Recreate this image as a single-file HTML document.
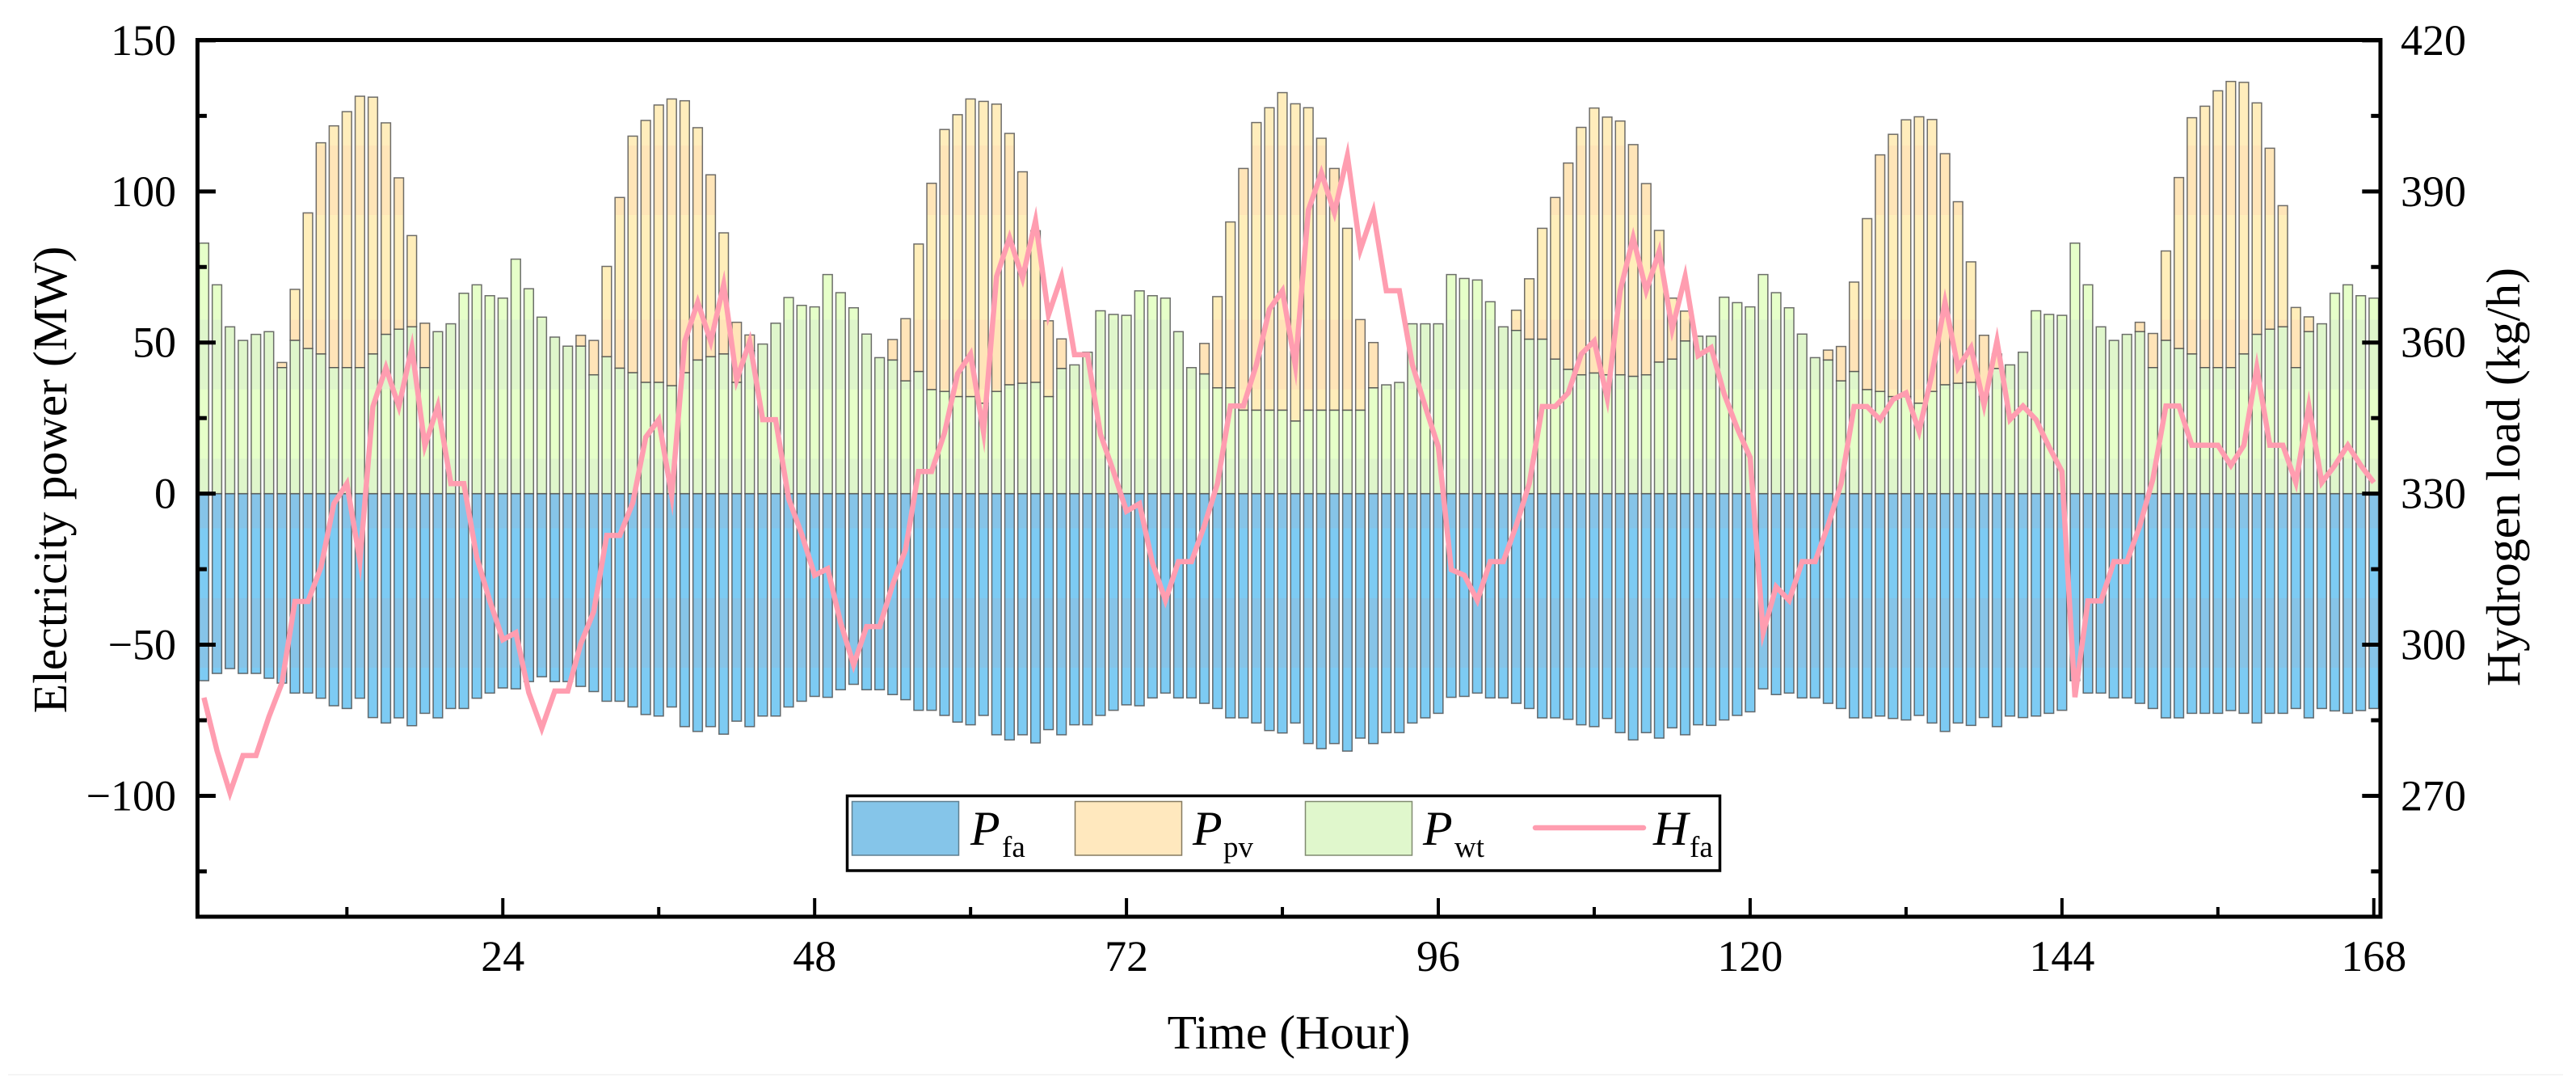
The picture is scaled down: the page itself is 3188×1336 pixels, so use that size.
<!DOCTYPE html>
<html lang="en">
<head>
<meta charset="utf-8">
<title>Electricity power and hydrogen load</title>
<style>
html,body{margin:0;padding:0;background:#fff;}
svg{display:block;font-family:"Liberation Serif",serif;fill:#000;}
</style>
</head>
<body>
<svg id="chart" xmlns="http://www.w3.org/2000/svg" width="3188" height="1336" viewBox="0 0 3188 1336">
  <defs>
    <linearGradient id="fa-fill" gradientUnits="userSpaceOnUse" x1="0" y1="0" x2="0" y2="1336">
      <stop offset="0.4892" stop-color="#86C4E8"/><stop offset="0.4892" stop-color="#7DCBF3"/>
      <stop offset="0.5539" stop-color="#7DCBF3"/><stop offset="0.5539" stop-color="#86C4E8"/>
      <stop offset="0.6183" stop-color="#86C4E8"/><stop offset="0.6183" stop-color="#7DCBF3"/>
    </linearGradient>
    <linearGradient id="pv-fill" gradientUnits="userSpaceOnUse" x1="0" y1="0" x2="0" y2="1336">
      <stop offset="0.1347" stop-color="#FFEDBC"/><stop offset="0.1347" stop-color="#FFE5B8"/>
      <stop offset="0.1991" stop-color="#FFE5B8"/><stop offset="0.1991" stop-color="#FFEEBA"/>
      <stop offset="0.2960" stop-color="#FFEEBA"/><stop offset="0.2960" stop-color="#FFE4B8"/>
      <stop offset="0.3604" stop-color="#FFE4B8"/><stop offset="0.3604" stop-color="#FFEDBA"/>
    </linearGradient>
    <linearGradient id="wt-fill" gradientUnits="userSpaceOnUse" x1="0" y1="0" x2="0" y2="1336">
      <stop offset="0.2960" stop-color="#E6FFC9"/><stop offset="0.2960" stop-color="#DFF6CB"/>
      <stop offset="0.3604" stop-color="#DFF6CB"/><stop offset="0.3604" stop-color="#E6FFC9"/>
      <stop offset="0.4249" stop-color="#E6FFC9"/><stop offset="0.4249" stop-color="#DFF6CB"/>
    </linearGradient>
  </defs>

  <g id="bars"></g>
  <g id="line"></g>
  <g id="ticks"></g>
  <rect x="244.4" y="49.5" width="2701.6" height="1084.5" fill="none" stroke="#000" stroke-width="5"/>
  <g id="labels" font-size="54"></g>

  <text x="1595" y="1297" font-size="59.6" text-anchor="middle">Time (Hour)</text>
  <text transform="translate(82 593.5) rotate(-90)" font-size="59.8" text-anchor="middle">Electricity power (MW)</text>
  <text transform="translate(3118 590) rotate(-90)" font-size="59.8" text-anchor="middle">Hydrogen load (kg/h)</text>

  <g>
    <rect x="1048.5" y="984.5" width="1080" height="92.5" fill="#fff" stroke="#000" stroke-width="3.5"/>
    <g>
      <rect x="1054.5" y="991.5" width="132" height="66.5" fill="#85C5E9" stroke="#5f7f90" stroke-width="1.5"/>
      <text x="1201" y="1045" font-size="60" font-style="italic">P</text>
      <text x="1240" y="1060" font-size="37">fa</text>
    </g>
    <g>
      <rect x="1330.5" y="991.5" width="132" height="66.5" fill="#FFE8BE" stroke="#857a60" stroke-width="1.5"/>
      <text x="1476" y="1045" font-size="60" font-style="italic">P</text>
      <text x="1514" y="1060" font-size="37">pv</text>
    </g>
    <g>
      <rect x="1615.5" y="991.5" width="132" height="66.5" fill="#E0F7CC" stroke="#808a70" stroke-width="1.5"/>
      <text x="1761" y="1045" font-size="60" font-style="italic">P</text>
      <text x="1800" y="1060" font-size="37">wt</text>
    </g>
    <g>
      <line x1="1900" y1="1024" x2="2034" y2="1024" stroke="#FF9DB0" stroke-width="6.5" stroke-linecap="round"/>
      <text x="2046" y="1045" font-size="60" font-style="italic">H</text>
      <text x="2091" y="1060" font-size="37">fa</text>
    </g>
  </g>
  <line x1="10" y1="1329.5" x2="3172" y2="1329.5" stroke="#f1f1f1" stroke-width="1.5"/>
</svg>

<script>
const hours = Array.from({length: 168}, (_, i) => i + 1);
const xTickLabels = ["24","48","72","96","120","144","168"];
const leftTickLabels = ["150","100","50","0","\u2212" + "50","\u2212" + "100"];
const leftTickValues = [150,100,50,0,-50,-100];
const rightTickValues = [420,390,360,330,300,270];

const pFa = [
61.9,59.5,57.9,59.5,59.5,61.1,62.7,66.0,66.0,67.7,70.2,71.1,67.7,74.1,75.9,74.2,76.8,72.7,74.2,71.1,71.1,67.7,66.0,64.3,
64.6,62.2,60.6,62.2,62.2,63.8,65.5,68.7,68.7,70.6,73.1,73.6,70.6,77.1,78.7,77.1,79.6,75.3,77.1,73.6,73.6,70.6,68.7,67.1,
67.4,64.9,63.1,64.9,64.9,66.5,68.2,71.7,71.7,73.4,75.6,76.5,73.4,79.8,81.5,79.8,82.5,78.1,79.8,76.5,76.5,73.4,71.7,69.9,
70.2,67.6,66.0,67.6,67.6,69.4,71.1,74.2,74.2,75.9,78.4,79.2,75.9,82.7,84.4,82.7,85.2,80.9,82.7,79.1,79.1,75.9,74.2,72.7,
67.4,67.1,66.0,67.6,67.6,69.4,71.1,74.2,74.2,74.7,76.5,77.1,74.4,79.1,81.5,79.1,80.9,77.5,79.8,76.5,76.7,74.9,73.4,72.2,
64.6,66.5,66.0,67.6,67.6,69.4,71.1,74.2,74.2,73.6,74.4,74.9,73.4,75.9,78.7,75.9,76.7,74.1,77.1,73.6,74.1,73.6,72.7,71.7,
61.9,66.0,66.0,67.6,67.6,69.4,71.1,74.2,74.2,72.7,72.7,72.7,71.8,72.7,75.9,72.7,72.7,71.1,74.2,71.1,71.9,72.7,71.8,71.1];

const pWt = [
82.9,69.1,55.2,50.7,52.7,53.6,41.7,50.7,48.0,46.2,41.7,41.7,41.7,46.2,52.7,54.4,55.2,41.7,53.6,56.2,66.3,69.1,65.5,64.7,
77.6,67.8,58.4,51.8,48.8,48.8,39.3,45.3,41.5,40.0,36.8,36.8,35.7,40.0,44.2,45.3,46.2,36.8,47.3,49.5,56.4,64.9,62.3,61.8,
72.5,66.5,61.5,52.8,45.0,44.2,37.3,40.4,34.4,33.8,32.1,32.1,29.9,33.8,36.0,36.5,36.8,32.1,41.4,42.6,46.8,60.5,59.3,59.0,
67.1,65.5,64.7,53.6,41.7,39.6,35.0,35.0,27.6,27.6,27.6,27.6,24.0,27.6,27.6,27.6,27.6,27.6,35.0,36.0,36.8,56.2,56.2,56.2,
72.5,71.2,70.7,63.5,55.2,54.0,51.1,51.1,44.5,41.1,39.3,39.9,39.3,39.3,38.8,39.3,43.5,44.5,50.5,52.1,52.1,65.0,63.2,61.8,
72.5,66.5,61.5,52.8,45.0,44.2,37.3,40.4,34.4,33.8,32.1,32.1,29.9,33.8,36.0,36.5,36.8,32.1,41.4,42.6,46.8,60.5,59.3,59.0,
82.9,69.1,55.2,50.7,52.7,53.6,41.7,50.7,48.0,46.2,41.7,41.7,41.7,46.2,52.7,54.4,55.2,41.7,53.6,56.2,66.3,69.1,65.5,64.7];

const pPv = [
0,0,0,0,0,0,1.7,16.9,44.9,69.9,80.0,84.7,89.8,85.0,70.0,50.1,30.2,14.7,0,0,0,0,0,0,
0,0,0,0,0,3.6,11.4,29.9,56.5,78.3,86.7,91.8,94.9,90.0,76.9,60.2,40.1,19.9,5.2,0,0,0,0,0,
0,0,0,0,0,6.8,20.6,42.2,68.3,86.7,93.3,98.5,99.9,95.1,83.2,70.0,50.2,25.1,9.8,0,0,0,0,0,
0,0,0,0,0,10.1,30.2,54.9,80.0,95.2,100.1,105.1,105.0,100.1,90.0,80.0,60.2,30.0,15.0,0,0,0,0,0,
0,0,0,0,0,6.7,20.0,36.7,53.5,68.3,81.9,87.7,85.3,84.0,76.7,63.3,43.6,20.2,9.9,0,0,0,0,0,
0,0,0,0,0,3.3,11.4,29.6,56.6,78.3,86.8,91.6,94.8,90.0,76.5,60.1,39.9,20.3,4.8,0,0,0,0,0,
0,0,0,0,0,3.1,11.3,29.6,56.6,78.2,86.5,91.6,94.7,89.9,76.6,59.9,40.1,19.9,4.9,0,0,0,0,0];

const hFa = [
289.5,279.0,270.6,278.0,278.0,285.7,292.4,308.6,308.6,315.4,328.0,332.0,316.6,347.3,355.0,347.3,359.0,339.5,347.4,332.0,332.0,317.3,308.7,301.0,
302.4,290.5,283.4,290.8,290.8,300.2,306.6,321.7,321.7,328.2,341.2,344.7,329.6,360.2,368.0,360.2,371.5,352.6,360.2,344.7,344.7,329.0,322.0,313.8,
315.1,304.4,296.0,303.6,303.6,311.9,318.9,334.4,334.4,342.1,353.8,357.7,342.2,373.1,380.8,372.8,384.2,365.5,373.1,357.6,357.6,341.8,334.4,326.5,
328.0,316.2,308.8,316.5,316.5,323.7,332.0,347.4,347.4,355.6,366.6,370.3,355.4,386.3,393.7,385.8,397.1,378.4,386.0,370.3,370.3,355.6,347.3,339.3,
314.9,313.8,308.8,316.5,316.5,323.7,332.0,347.3,347.3,350.0,357.7,360.3,348.9,370.3,380.8,370.3,378.1,362.7,373.1,357.4,359.0,349.8,343.0,337.2,
302.4,311.5,308.8,316.5,316.5,323.7,332.0,347.3,347.3,344.7,348.7,350.0,342.4,353.8,368.0,355.0,359.0,347.6,360.3,344.7,347.4,344.7,339.3,334.4,
289.6,308.7,308.7,316.5,316.5,323.7,332.9,347.4,347.4,339.6,339.6,339.6,335.6,339.6,355.0,339.6,339.6,332.2,347.4,332.2,335.6,339.6,335.6,332.2];

const SVGNS = "http://www.w3.org/2000/svg";
const PLOT = {left: 244.4, right: 2945.8, top: 49.9, bottom: 1134};
const xDomain = [0.5, 168.5];
const yLeftDomain = [-140, 150];
const yRightDomain = [246, 420];

function xScale(v) {
  return PLOT.left + (v - xDomain[0]) / (xDomain[1] - xDomain[0]) * (PLOT.right - PLOT.left);
}
function yLeft(v) {
  return PLOT.bottom - (v - yLeftDomain[0]) / (yLeftDomain[1] - yLeftDomain[0]) * (PLOT.bottom - PLOT.top);
}
function yRight(v) {
  return PLOT.bottom - (v - yRightDomain[0]) / (yRightDomain[1] - yRightDomain[0]) * (PLOT.bottom - PLOT.top);
}
function make(tag, parent, props) {
  const el = document.createElementNS(SVGNS, tag);
  for (const k in props) el.setAttribute(k, props[k]);
  parent.appendChild(el);
  return el;
}

const barsG = document.getElementById("bars");
const lineG = document.getElementById("line");
const ticksG = document.getElementById("ticks");
const labelsG = document.getElementById("labels");
const BAR_W = 0.82 * (xScale(2) - xScale(1));
const EDGE = {"stroke": "#4a4a4a", "stroke-width": 1.5, "stroke-opacity": 0.8};

function drawBar(hour, v0, v1, fill, name) {
  const yA = yLeft(v0), yB = yLeft(v1);
  const rect = make("rect", barsG, Object.assign({
    x: xScale(hour) - BAR_W / 2 + 0.75,
    y: Math.min(yA, yB),
    width: BAR_W - 1.5,
    height: Math.abs(yA - yB),
    fill: fill
  }, EDGE));
  
  
}

hours.forEach((h, i) => {
  drawBar(h, 0, -pFa[i], "url(#fa-fill)", "bar-pfa-" + h);
  if (pPv[i] > 0) drawBar(h, pWt[i], pWt[i] + pPv[i], "url(#pv-fill)", "bar-ppv-" + h);
  drawBar(h, 0, pWt[i], "url(#wt-fill)", "bar-pwt-" + h);
});

const hLine = make("polyline", lineG, {
  points: hours.map((h, i) => xScale(h).toFixed(1) + "," + yRight(hFa[i]).toFixed(1)).join(" "),
  fill: "none",
  stroke: "#FF9DB0",
  "stroke-width": 6.5,
  "stroke-linejoin": "miter",
  "stroke-miterlimit": 10
});



function drawTick(x1, y1, x2, y2, w, name) {
  const t = make("line", ticksG, {x1: x1, y1: y1, x2: x2, y2: y2, stroke: "#000", "stroke-width": w});
  
  
}
function drawLabel(x, y, text, anchor, name) {
  const t = make("text", labelsG, {x: x, y: y, "text-anchor": anchor});
  t.textContent = text;
  
  
}

xTickLabels.forEach(label => {
  const v = Number(label);
  drawTick(xScale(v), PLOT.bottom, xScale(v), PLOT.bottom - 23, 4, "x-major-tick-" + label);
  drawTick(xScale(v - 12), PLOT.bottom, xScale(v - 12), PLOT.bottom - 12, 4, "x-minor-tick-" + (v - 12));
  drawLabel(xScale(v), 1201, label, "middle", "x-tick-label-" + label);
});

leftTickValues.forEach((v, i) => {
  const y = yLeft(v);
  drawTick(PLOT.left, y, PLOT.left + 22.5, y, 5, "left-major-tick-" + v);
  drawTick(PLOT.left, yLeft(v - 25), PLOT.left + 11.5, yLeft(v - 25), 5, "left-minor-tick-" + (v - 25));
  drawLabel(218, y + 18, leftTickLabels[i], "end", "left-tick-label-" + v);
});

rightTickValues.forEach(v => {
  const y = yRight(v);
  drawTick(PLOT.right, y, PLOT.right - 22.5, y, 5, "right-major-tick-" + v);
  drawTick(PLOT.right, yRight(v - 15), PLOT.right - 11.5, yRight(v - 15), 5, "right-minor-tick-" + (v - 15));
  drawLabel(2971, y + 18, String(v), "start", "right-tick-label-" + v);
});
</script>
</body>
</html>
